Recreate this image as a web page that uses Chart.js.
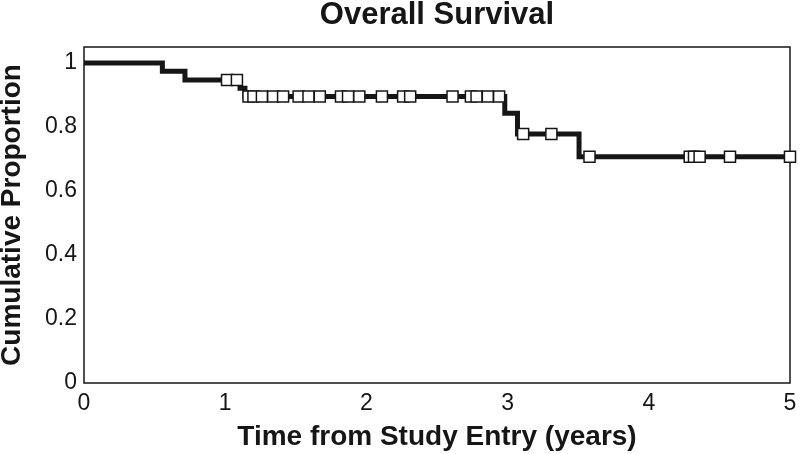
<!DOCTYPE html>
<html>
<head>
<meta charset="utf-8">
<script src="https://cdn.jsdelivr.net/npm/chart.js@4"></script>
<style>
    html, body { margin: 0; padding: 0; background: #ffffff; }
    #wrap { width: 800px; height: 454px; }
</style>
</head>
<body>
<div id="wrap"><canvas id="myChart" width="800" height="454"></canvas></div>
<script>
/*
    Kaplan-Meier style step curve for overall survival, with censor marks
*/

// step curve: time (years) where the proportion drops, and the new proportion
const stepTimes = [0, 0.555, 0.715, 1.105, 1.14, 2.98, 3.07, 3.506, 5.0];
const stepSurv  = [1, 0.974, 0.947, 0.921, 0.895, 0.843, 0.778, 0.707, 0.707];

// censored patients (open squares): time and proportion at that time
const censorTimes = [1.013, 1.083,
    1.165, 1.20, 1.26, 1.34, 1.41, 1.52, 1.59, 1.67, 1.82, 1.87, 1.95,
    2.11, 2.26, 2.31, 2.61, 2.74, 2.78, 2.86, 2.94,
    3.11, 3.31,
    3.58, 4.29, 4.32, 4.36, 4.575, 5.0];
const censorSurv = [0.947, 0.947,
    0.895, 0.895, 0.895, 0.895, 0.895, 0.895, 0.895, 0.895, 0.895, 0.895, 0.895,
    0.895, 0.895, 0.895, 0.895, 0.895, 0.895, 0.895, 0.895,
    0.778, 0.778,
    0.707, 0.707, 0.707, 0.707, 0.707, 0.707];

// axis ticks
const xTicks = [0, 1, 2, 3, 4, 5];
const yTicks = [0, 0.2, 0.4, 0.6, 0.8, 1];

const ink = '#161616';
const fontFamily = '"Liberation Sans", Arial, Helvetica, sans-serif';

// draws the closed box round the plot area (under the censor marks)
const frameBox = {
    id: 'frameBox',
    beforeDatasetsDraw(chart) {
        const a = chart.chartArea;
        const c = chart.ctx;
        c.save();
        c.strokeStyle = ink;
        c.lineWidth = 1.5;
        c.strokeRect(a.left, a.top, a.right - a.left, a.bottom - a.top);
        c.restore();
    }
};

const ctx = document.getElementById('myChart');
const myChart = new Chart(ctx, {
    type: 'line',
    data: {
        datasets: [
            {
                type: 'scatter',
                label: 'Censored',
                data: censorTimes.map((t, i) => ({ x: t, y: censorSurv[i] })),
                pointStyle: 'rect',
                pointRadius: 7.8,
                pointBorderWidth: 1.5,
                pointBackgroundColor: '#ffffff',
                pointBorderColor: ink,
                showLine: false,
                clip: false,     // last mark sits on the right frame
                order: 0
            },
            {
                label: 'Overall Survival',
                data: stepTimes.map((t, i) => ({ x: t, y: stepSurv[i] })),
                stepped: 'before',
                borderColor: ink,
                borderWidth: 5,
                pointRadius: 0,
                fill: false,
                order: 1
            }
        ]
    },
    options: {
        responsive: false,
        animation: false,
        layout: {
            padding: { left: 0, right: 10, top: 0, bottom: 0 }
        },
        scales: {
            x: {
                type: 'linear',
                min: 0,
                max: 5,
                afterBuildTicks: s => { s.ticks = xTicks.map(v => ({ value: v })); },
                afterFit: s => {
                    s.height = 71;
                    s.paddingLeft = 0;    // keep "0" and "5" labels from shrinking the plot
                    s.paddingRight = 0;
                },
                grid: { display: false, drawTicks: false },
                border: { display: false },
                ticks: {
                    color: ink,
                    padding: 7,
                    callback: v => String(v),
                    font: { family: fontFamily, size: 23 }
                },
                title: {
                    display: true,
                    text: 'Time from Study Entry (years)',
                    color: ink,
                    padding: { top: 0, bottom: 0 },
                    font: { family: fontFamily, size: 28, weight: 'bold' }
                }
            },
            y: {
                min: 0,
                max: 1.05,
                afterBuildTicks: s => { s.ticks = yTicks.map(v => ({ value: v })); },
                afterFit: s => { s.width = 84; },
                grid: { display: false, drawTicks: false },
                border: { display: false },
                ticks: {
                    color: ink,
                    padding: 7,
                    callback: v => String(v),
                    font: { family: fontFamily, size: 23 }
                },
                title: {
                    display: true,
                    text: 'Cumulative Proportion',
                    color: ink,
                    padding: 0,
                    font: { family: fontFamily, size: 28, weight: 'bold', lineHeight: 0.9 }
                }
            }
        },
        plugins: {
            title: {
                display: true,
                fullSize: false,
                text: 'Overall Survival',
                color: ink,
                padding: { top: 0, bottom: 16 },
                font: { family: fontFamily, size: 31, weight: 'bold', lineHeight: 1 }
            },
            legend: { display: false },
            tooltip: { enabled: false }
        }
    },
    plugins: [frameBox]
});
</script>
</body>
</html>
